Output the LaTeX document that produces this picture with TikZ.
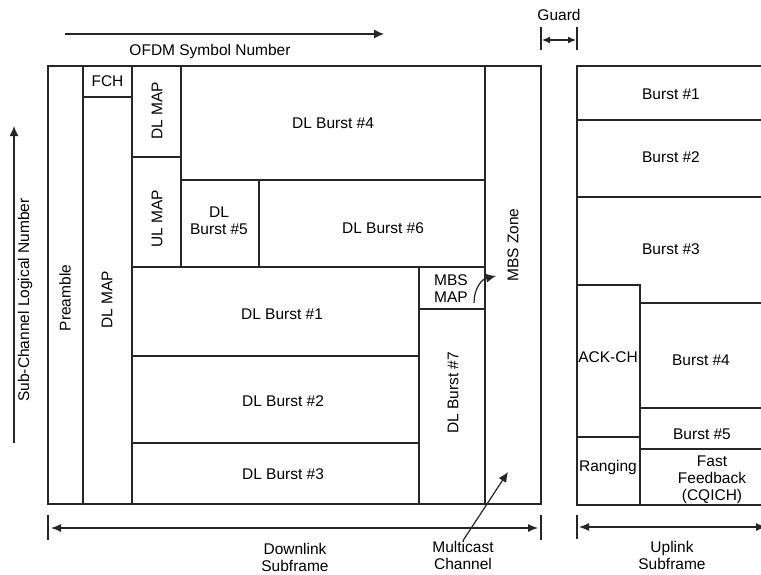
\documentclass[tikz,border=0pt]{standalone}
\usepackage{fontspec}
\setmainfont{Liberation Sans}
\usetikzlibrary{arrows.meta}
\newcommand\cellbox[5]{\node[cell, minimum width={(#4-#2)*1pt}, minimum height={(#5-#3)*1pt}] (#1) at ({(#2+#4)/2},{(#3+#5)/2}) {};}
\begin{document}
\begin{tikzpicture}[x=1pt,y=-1pt,
  cell/.style={draw=black!85, line width=1.3pt, fill=white, inner sep=0pt, outer sep=0pt},
  lbl/.style={inner sep=0pt, align=center, font=\fontsize{15.5}{17}\selectfont, text=black},
  arr/.style={line width=1.2pt, draw=black!85, -{Latex[length=10pt,width=9pt]}},
  darr/.style={line width=1.2pt, draw=black!85, {Latex[length=10pt,width=8pt]}-{Latex[length=10pt,width=8pt]}},
  garr/.style={line width=1.2pt, draw=black!85, {Latex[length=8pt,width=7pt]}-{Latex[length=8pt,width=7pt]}},
  tick/.style={line width=1.4pt, draw=black!85}]
\useasboundingbox (0,0) rectangle (761,574);
\clip (0,0) rectangle (761,574);

% ---------- Downlink ----------
\cellbox{pre}{48}{66}{83}{504}
\cellbox{fch}{83}{66}{132}{97}
\cellbox{dlmap}{83}{97}{132}{504}
\cellbox{dlmapt}{132}{66}{181}{157}
\cellbox{ulmap}{132}{157}{181}{267}
\cellbox{b4}{181}{66}{485}{180}
\cellbox{b5}{181}{180}{259}{267}
\cellbox{b6}{259}{180}{485}{267}
\cellbox{b1}{132}{267}{419}{356}
\cellbox{b2}{132}{356}{419}{443}
\cellbox{b3}{132}{443}{419}{504}
\cellbox{mbsmap}{419}{267}{485}{309}
\cellbox{b7}{419}{309}{485}{504}
\cellbox{mbs}{485}{66}{541}{504}

\node[lbl, rotate=90] (preT) at (65,298) {Preamble};
\node[lbl] (fchT) at (fch) {FCH};
\node[lbl, rotate=90] (dlmapT) at (107,300) {DL MAP};
\node[lbl, rotate=90] (dlmaptT) at (157,111) {DL MAP};
\node[lbl, rotate=90] (ulmapT) at (157,219) {UL MAP};
\node[lbl] (b4T) at (333,123) {DL Burst \#4};
\node[lbl] (b5T) at (219,221) {DL\\Burst \#5};
\node[lbl] (b6T) at (383,228) {DL Burst \#6};
\node[lbl] (b1T) at (282,314) {DL Burst \#1};
\node[lbl] (b2T) at (283,401) {DL Burst \#2};
\node[lbl] (b3T) at (283,474) {DL Burst \#3};
\node[lbl] (mbsmapT) at (451,289) {MBS\\MAP};
\node[lbl, rotate=90] (b7T) at (453,393) {DL Burst \#7};
\node[lbl, rotate=90] (mbsT) at (513,245) {MBS Zone};

% MBS MAP -> MBS Zone curved arrow
\coordinate (mmS) at (474,303);
\coordinate (mmE) at (496,276);
\draw[arr] (mmS) .. controls (474,288) and (482,279) .. (mmE);

% ---------- Uplink ----------
\cellbox{u1}{577}{66}{765}{120}
\cellbox{u2}{577}{120}{765}{197}
\cellbox{u3}{577}{197}{765}{303}
\cellbox{ack}{577}{285}{640}{437}
\cellbox{u4}{640}{303}{765}{408}
\cellbox{u5}{640}{408}{765}{449}
\cellbox{rng}{577}{437}{640}{505}
\cellbox{ff}{640}{449}{765}{505}

\node[lbl] (u1T) at (671,94) {Burst \#1};
\node[lbl] (u2T) at (671,157) {Burst \#2};
\node[lbl] (u3T) at (671,249) {Burst \#3};
\node[lbl] (ackT) at (608,357) {ACK-CH};
\node[lbl] (u4T) at (701,360) {Burst \#4};
\node[lbl] (u5T) at (702,434) {Burst \#5};
\node[lbl] (rngT) at (608,467) {Ranging};
\node[lbl] (ffT) at (712,480) {Fast\\Feedback\\(CQICH)};

% ---------- Axes / annotations ----------
\coordinate (ofA) at (65,34);
\coordinate (ofB) at (384,34);
\draw[arr] (ofA) -- (ofB);
\node[lbl] (ofT) at (210,51) {OFDM Symbol Number};

\coordinate (scA) at (14,443);
\coordinate (scB) at (14,126);
\draw[arr] (scA) -- (scB);
\node[lbl, rotate=90] (scT) at (25,300) {Sub-Channel Logical Number};

% Guard
\coordinate (gL1) at (541,27); \coordinate (gL2) at (541,50);
\coordinate (gR1) at (577,27); \coordinate (gR2) at (577,50);
\draw[tick] (gL1) -- (gL2);
\draw[tick] (gR1) -- (gR2);
\coordinate (gA) at (542,40); \coordinate (gB) at (576,40);
\draw[garr] (gA) -- (gB);
\node[lbl] (gT) at (559,15) {Guard};

% Downlink subframe
\coordinate (dL1) at (48,515); \coordinate (dL2) at (48,540);
\coordinate (dR1) at (541,515); \coordinate (dR2) at (541,540);
\draw[tick] (dL1) -- (dL2);
\draw[tick] (dR1) -- (dR2);
\coordinate (dA) at (51,528); \coordinate (dB) at (538,528);
\draw[darr] (dA) -- (dB);
\node[lbl] (dT) at (295,557) {Downlink\\Subframe};

% Uplink subframe
\coordinate (uL1) at (577,515); \coordinate (uL2) at (577,539);
\draw[tick] (uL1) -- (uL2);
\coordinate (uA) at (579,527); \coordinate (uB) at (766,527);
\draw[darr] (uA) -- (uB);
\node[lbl] (uT) at (672,555) {Uplink\\Subframe};

% Multicast channel
\node[lbl] (mcT) at (463,555) {Multicast\\Channel};
\coordinate (mcE) at (508,472);
\draw[arr] (mcT.north) -- (mcE);
\end{tikzpicture}
\end{document}
